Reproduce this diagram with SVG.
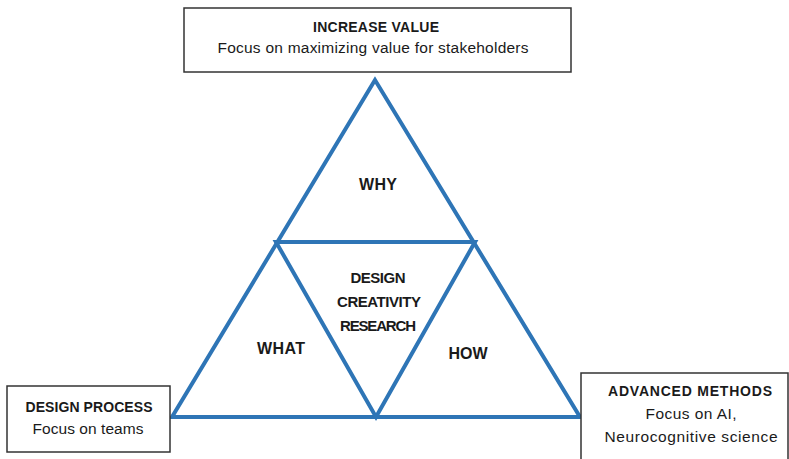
<svg xmlns="http://www.w3.org/2000/svg" width="789" height="459" viewBox="0 0 789 459">
<style>
.box{fill:#fff;stroke:#333;stroke-width:1.5}
.tri{fill:none;stroke:#2e75b6;stroke-width:4;stroke-linejoin:miter}
.b{font-family:"Liberation Sans",Arial,sans-serif;font-weight:bold;font-size:14px;fill:#1a1a1a;text-anchor:middle}
.r{font-family:"Liberation Sans",Arial,sans-serif;font-size:15.5px;fill:#1a1a1a;text-anchor:middle}
.l{font-family:"Liberation Sans",Arial,sans-serif;font-weight:bold;font-size:16px;fill:#1a1a1a;text-anchor:middle}
.c{font-family:"Liberation Sans",Arial,sans-serif;font-weight:bold;font-size:15px;fill:#1a1a1a;text-anchor:middle}
</style>
<rect width="789" height="459" fill="#fff"/>
<g id="connectors">
<polygon class="tri" points="375,80 172,417 580,417"/>
<polygon class="tri" points="276,242 475,242 376,417"/>
</g>
<g id="why"><text class="l" x="378" y="190" textLength="38">WHY</text></g>
<g id="center">
<text class="c" x="378" y="283" textLength="55">DESIGN</text>
<text class="c" x="379" y="307" textLength="84">CREATIVITY</text>
<text class="c" x="378" y="331" textLength="76">RESEARCH</text>
</g>
<g id="what"><text class="l" x="281" y="354" textLength="48">WHAT</text></g>
<g id="how"><text class="l" x="468" y="359" textLength="39">HOW</text></g>
<g id="increase-value">
<rect class="box" x="184" y="8" width="387" height="64"/>
<text class="b" x="376" y="32" textLength="126">INCREASE VALUE</text>
<text class="r" x="373" y="53" textLength="311">Focus on maximizing value for stakeholders</text>
</g>
<g id="design-process">
<rect class="box" x="7" y="386" width="163" height="66"/>
<text class="b" x="89" y="412" textLength="127">DESIGN PROCESS</text>
<text class="r" x="88" y="434" textLength="111">Focus on teams</text>
</g>
<g id="advanced-methods">
<rect class="box" x="581" y="373" width="207" height="100"/>
<text class="b" x="690" y="396" textLength="164">ADVANCED METHODS</text>
<text class="r" x="691" y="419" textLength="91">Focus on AI,</text>
<text class="r" x="691" y="442" textLength="173">Neurocognitive science</text>
</g>
</svg>
